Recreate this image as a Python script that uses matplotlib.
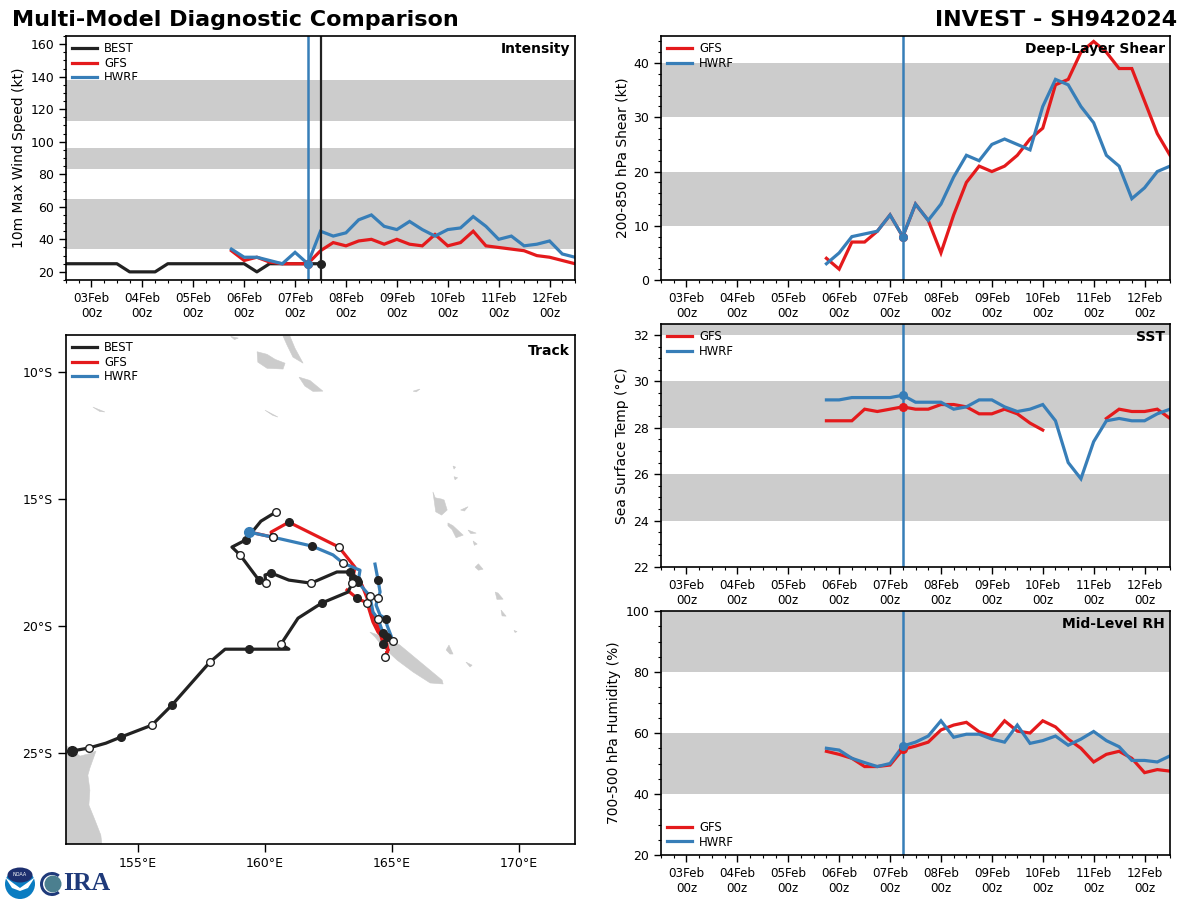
import numpy as np
import matplotlib
matplotlib.use('Agg')
import matplotlib.pyplot as plt
from matplotlib.patches import Circle, Ellipse, Polygon, PathPatch, Wedge
from matplotlib.path import Path
from matplotlib.ticker import MultipleLocator

GFS_COL = '#e41a1c'
HWRF_COL = '#377eb8'
BEST_COL = '#222222'
BAND = '#cccccc'

# days of February, every 6 hours
best_t = np.arange(2.5, 7.51, 0.25)
t = np.arange(5.75, 12.51, 0.25)
tick_days = [3, 4, 5, 6, 7, 8, 9, 10, 11, 12]
tick_labels = ['%02dFeb\n00z' % d for d in tick_days]

best_vmax = [25, 25, 25, 25, 25, 20, 20, 20, 25, 25, 25, 25, 25, 25, 25, 20, 25, 25, 25, 25, 25]
gfs_vmax = [33, 27, 29, 26, 25, 25, 25, 33, 38, 36, 39, 40, 37, 40, 37, 36, 43, 36, 38, 45,
            36, 35, 34, 33, 30, 29, 27, 25]
hwrf_vmax = [34, 29, 29, 27, 25, 32, 25, 45, 42, 44, 52, 55, 48, 46, 51, 46, 42, 46, 47, 54,
             48, 40, 42, 36, 37, 39, 31, 29]

gfs_shear = [4, 2, 7, 7, 9, 12, 8, 14, 11, 5, 12, 18, 21, 20, 21, 23, 26, 28, 36, 37,
             42, 44, 42, 39, 39, 33, 27, 23]
hwrf_shear = [3, 5, 8, 8.5, 9, 12, 8, 14, 11, 14, 19, 23, 22, 25, 26, 25, 24, 32, 37, 36,
              32, 29, 23, 21, 15, 17, 20, 21]

nan = float('nan')
gfs_sst = [28.3, 28.3, 28.3, 28.8, 28.7, 28.8, 28.9, 28.8, 28.8, 29.0, 29.0, 28.9, 28.6, 28.6,
           28.8, 28.6, 28.2, 27.9, nan, nan, nan, nan, 28.4, 28.8, 28.7, 28.7, 28.8, 28.4]
hwrf_sst = [29.2, 29.2, 29.3, 29.3, 29.3, 29.3, 29.4, 29.1, 29.1, 29.1, 28.8, 28.9, 29.2, 29.2,
            28.9, 28.7, 28.8, 29.0, 28.3, 26.5, 25.8, 27.4, 28.3, 28.4, 28.3, 28.3, 28.6, 28.8]

gfs_rh = [54, 53, 51.7, 49, 49, 49.5, 54.6, 55.7, 57, 61, 62.6, 63.5, 60.4, 59, 64, 60.6, 60, 64,
          62, 58, 55, 50.5, 53, 54, 51.7, 47, 48, 47.5]
hwrf_rh = [55, 54.4, 51.7, 50.3, 49, 50, 55.7, 57, 59, 64, 58.6, 59.6, 59.6, 58, 57, 62.6, 56.6,
           57.5, 59, 56, 58, 60.5, 57.5, 55.5, 51, 51, 50.5, 52.5]

# tracks
best_lon = [160.43, 159.84, 159.24, 158.70, 159.02, 159.76, 160.04, 160.00, 160.24, 160.94,
            161.81, 162.83, 163.35, 163.62, 163.43, 163.27, 162.24, 161.30, 160.63, 160.94,
            159.37, 158.43, 157.83, 156.34, 155.55, 154.33, 153.74, 153.07, 152.40]
best_lat = [-15.51, -15.87, -16.61, -16.89, -17.20, -18.19, -18.31, -17.99, -17.91, -18.19,
            -18.31, -17.87, -17.87, -18.19, -18.31, -18.66, -19.09, -19.69, -20.71, -20.91,
            -20.91, -20.91, -21.42, -23.11, -23.90, -24.37, -24.61, -24.80, -24.92]
best_open = [0, 4, 6, 10, 14, 18, 22, 24, 27]
best_filled = [2, 5, 8, 12, 13, 16, 20, 23, 25]

gfs_lon = [163.23, 163.62, 164.02, 164.25, 164.45, 164.76, 164.84, 164.72, 164.84, 164.65, 164.45,
           164.17, 163.82, 163.46, 163.54, 162.91, 160.94, 160.24, 160.31, 159.41]
gfs_lat = [-18.58, -18.90, -19.09, -19.84, -20.24, -20.55, -20.94, -21.22, -20.94, -20.71, -19.96,
           -19.29, -18.39, -18.11, -17.68, -16.89, -15.91, -16.30, -16.50, -16.30]
gfs_open = [2, 7, 15, 18]
gfs_filled = [1, 9, 13, 16]

hwrf_lon = [164.33, 164.45, 164.53, 164.45, 164.37, 164.53, 164.76, 164.80, 165.04, 164.80, 164.65,
            164.45, 164.25, 164.13, 163.66, 163.74, 163.07, 162.68, 161.85, 160.31, 159.37]
hwrf_lat = [-17.56, -18.19, -18.66, -18.90, -19.17, -19.57, -19.72, -19.96, -20.59, -20.43, -20.28,
            -19.72, -19.45, -18.82, -18.27, -17.80, -17.52, -17.20, -16.85, -16.50, -16.30]
hwrf_open = [3, 8, 11, 13, 16, 19]
hwrf_filled = [1, 6, 9, 10, 14, 18]

# land outlines, (lon, lat)
land = [
    [(152.17, -24.69), (152.40, -24.88), (152.72, -25.12), (153.03, -25.04), (153.35, -24.92),
     (153.11, -25.59), (153.03, -25.87), (153.11, -26.46), (153.07, -27.05), (153.31, -27.64),
     (153.54, -28.23), (153.58, -28.58), (152.17, -28.58)],
    [(164.13, -20.24), (164.80, -20.47), (165.31, -20.75), (166.97, -22.13), (167.01, -22.28),
     (166.50, -22.24), (165.83, -21.81), (165.20, -21.34), (164.65, -20.83), (164.33, -20.43)],
    [(167.13, -20.94), (167.24, -20.75), (167.40, -21.10), (167.28, -21.10)],
    [(167.91, -21.42), (168.15, -21.54), (168.07, -21.61)],
    [(166.61, -14.72), (166.70, -14.95), (166.95, -15.00), (167.05, -15.04), (167.17, -15.43),
     (166.95, -15.63), (166.72, -15.50)],
    [(167.20, -15.94), (167.40, -16.05), (167.80, -16.42), (167.52, -16.52), (167.36, -16.20),
     (167.20, -16.05)],
    [(167.99, -16.22), (168.31, -16.34), (168.10, -16.36)],
    [(167.70, -15.43), (167.99, -15.30), (167.85, -15.47)],
    [(168.27, -17.68), (168.40, -17.55), (168.58, -17.76), (168.40, -17.80)],
    [(168.19, -16.65), (168.35, -16.77), (168.24, -16.82)],
    [(169.06, -18.66), (169.17, -18.70), (169.37, -18.94), (169.13, -18.95)],
    [(169.29, -19.37), (169.49, -19.61), (169.33, -19.60)],
    [(167.40, -13.70), (167.50, -13.74), (167.44, -13.82)],
    [(167.44, -14.12), (167.58, -14.16), (167.48, -14.24)],
    [(169.80, -20.17), (169.92, -20.22), (169.84, -20.25)],
    [(160.71, -8.58), (160.98, -8.58), (161.18, -9.06), (161.50, -9.65), (161.10, -9.41),
     (160.87, -8.94)],
    [(159.69, -9.20), (160.08, -9.30), (160.40, -9.50), (160.79, -9.65), (160.71, -9.88),
     (160.08, -9.85), (159.72, -9.61)],
    [(161.34, -10.20), (161.77, -10.33), (162.28, -10.75), (161.89, -10.76), (161.57, -10.55)],
    [(165.83, -10.75), (166.10, -10.67), (165.95, -10.78)],
    [(153.23, -11.38), (153.70, -11.57), (153.50, -11.55)],
    [(160.00, -11.50), (160.51, -11.77), (160.30, -11.70)],
    [(158.65, -8.60), (158.95, -8.66), (158.80, -8.72)],
]

plt.rcParams['font.size'] = 9


def add_panel(x0, y0, x1, y1):
    # pixel box of the reference, y from the top
    return fig.add_axes([x0 / 1200, 1 - y1 / 900, (x1 - x0) / 1200, (y1 - y0) / 900])


def style_time(ax, ylim, bands, ylabel, title, major, minor):
    ax.set_xlim(2.5, 12.5)
    ax.set_ylim(*ylim)
    ax.set_xticks(tick_days)
    ax.set_xticklabels(tick_labels)
    ax.xaxis.set_minor_locator(MultipleLocator(0.25))
    ax.yaxis.set_major_locator(MultipleLocator(major))
    ax.yaxis.set_minor_locator(MultipleLocator(minor))
    ax.tick_params(which='major', length=5, width=1, labelsize=8.6)
    ax.tick_params(axis='y', which='major', labelsize=9)
    ax.tick_params(which='minor', length=2.5, width=0.8)
    ax.set_ylabel(ylabel, fontsize=10, labelpad=3)
    for lo, hi in bands:
        ax.axhspan(lo, hi, color=BAND, lw=0, zorder=1)
    ax.text(0.99, 0.975, title, transform=ax.transAxes, ha='right', va='top',
            fontsize=10, fontweight='bold', zorder=6)
    for s in ax.spines.values():
        s.set_linewidth(1.2)
        s.set_zorder(8)


def add_legend(ax, loc='upper left', z=7):
    leg = ax.legend(loc=loc, frameon=False, fontsize=8.4, handlelength=2.1, labelspacing=0.12,
                    handletextpad=0.6, borderaxespad=0.2, borderpad=0.35)
    leg.set_zorder(z)


def model_lines(ax, gfs, hwrf):
    ax.plot(t, gfs, color=GFS_COL, lw=2.3, label='GFS', zorder=3, solid_joinstyle='miter')
    ax.plot(t, hwrf, color=HWRF_COL, lw=2.3, label='HWRF', zorder=4, solid_joinstyle='miter')
    ax.axvline(7.25, color=HWRF_COL, lw=1.8, zorder=4)
    ax.plot(7.25, gfs[6], 'o', color=GFS_COL, ms=5.5, zorder=4)
    ax.plot(7.25, hwrf[6], 'o', color=HWRF_COL, ms=5.5, zorder=5)


fig = plt.figure(figsize=(12, 9), dpi=100)

# intensity
ax = add_panel(66, 36, 575, 280)
style_time(ax, (15, 165), [(34, 65), (83, 96), (113, 138)], '10m Max Wind Speed (kt)', 'Intensity', 20, 5)
ax.plot(best_t, best_vmax, color=BEST_COL, lw=2.3, label='BEST', zorder=2.5)
model_lines(ax, gfs_vmax, hwrf_vmax)
ax.axvline(7.5, color=BEST_COL, lw=1.6, zorder=4)
ax.plot(7.5, best_vmax[-1], 'o', color=BEST_COL, ms=5.5, zorder=5)
add_legend(ax, z=0.5)

# shear
ax = add_panel(661, 36, 1170, 280)
style_time(ax, (0, 45), [(10, 20), (30, 40)], '200-850 hPa Shear (kt)', 'Deep-Layer Shear', 10, 2)
model_lines(ax, gfs_shear, hwrf_shear)
add_legend(ax)

# sst
ax = add_panel(661, 324, 1170, 567)
style_time(ax, (22, 32.47), [(24, 26), (28, 30), (32, 33)], 'Sea Surface Temp (°C)', 'SST', 2, 0.5)
model_lines(ax, gfs_sst, hwrf_sst)
add_legend(ax)

# rh
ax = add_panel(661, 611, 1170, 855)
style_time(ax, (20, 100), [(40, 60), (80, 100)], '700-500 hPa Humidity (%)', 'Mid-Level RH', 20, 5)
model_lines(ax, gfs_rh, hwrf_rh)
add_legend(ax, 'lower left')

# track
ax = add_panel(66, 335, 575, 844)
ax.set_xlim(152.17, 172.2)
ax.set_ylim(-28.58, -8.54)
for poly in land:
    ax.add_patch(Polygon(poly, closed=True, fc=BAND, ec=BAND, lw=0.4, zorder=1))
ax.plot(best_lon, best_lat, color=BEST_COL, lw=2.3, label='BEST', zorder=3)
ax.plot(gfs_lon, gfs_lat, color=GFS_COL, lw=2.3, label='GFS', zorder=2.5)
ax.plot(hwrf_lon, hwrf_lat, color=HWRF_COL, lw=2.3, label='HWRF', zorder=3.5)
for lons, lats, op, fi in [(best_lon, best_lat, best_open, best_filled),
                           (gfs_lon, gfs_lat, gfs_open, gfs_filled),
                           (hwrf_lon, hwrf_lat, hwrf_open, hwrf_filled)]:
    lons = np.array(lons)
    lats = np.array(lats)
    ax.plot(lons[fi], lats[fi], 'o', color=BEST_COL, ms=5.5, zorder=5, ls='none')
    ax.plot(lons[op], lats[op], 'o', mfc='white', mec=BEST_COL, mew=1, ms=5.5, zorder=5.5, ls='none')
ax.plot(best_lon[-1], best_lat[-1], 'o', color=BEST_COL, ms=7, zorder=5)
ax.plot(hwrf_lon[-1], hwrf_lat[-1], 'o', color=HWRF_COL, ms=7, zorder=6)
ax.set_xticks([155, 160, 165, 170])
ax.set_xticklabels(['155°E', '160°E', '165°E', '170°E'])
ax.set_yticks([-10, -15, -20, -25])
ax.set_yticklabels(['10°S', '15°S', '20°S', '25°S'])
ax.tick_params(length=6, width=1, labelsize=9)
ax.text(0.99, 0.982, 'Track', transform=ax.transAxes, ha='right', va='top', fontsize=10,
        fontweight='bold', zorder=6)
for s in ax.spines.values():
    s.set_linewidth(1.2)
add_legend(ax)

fig.text(12 / 1200, 1 - 20 / 900, 'Multi-Model Diagnostic Comparison', fontsize=16, fontweight='bold',
         ha='left', va='center')
fig.text(1177 / 1200, 1 - 20 / 900, 'INVEST - SH942024', fontsize=16, fontweight='bold',
         ha='right', va='center')

# logos
lg = fig.add_axes([0, 0, 120 / 1200, 40 / 900])
lg.set_xlim(0, 120)
lg.set_ylim(40, 0)
lg.axis('off')
lg.add_patch(Circle((20, 24), 15, fc='#0a7cc1', ec='none'))
lg.add_patch(Ellipse((20, 15), 25, 15, fc='#1d2f6f', ec='none'))
lg.add_patch(PathPatch(Path([(5, 17), (13, 23), (20, 28), (27, 23), (35, 17), (28, 28), (20, 31), (12, 28), (5, 17)]),
                       fc='white', ec='none'))
lg.text(20, 15, 'NOAA', color='white', fontsize=3.5, ha='center', va='center')
lg.add_patch(Wedge((52, 24), 12, 50, 310, width=3, fc='#1f3a7a', ec='none'))
lg.add_patch(Circle((53, 24), 8.5, fc='#4b7f8f', ec='none', zorder=3))
lg.text(63, 24, 'IRA', color='#1f3a7a', fontsize=18.5, family='Liberation Serif', fontweight='bold',
        ha='left', va='center')

fig.savefig('out.png', dpi=100)
